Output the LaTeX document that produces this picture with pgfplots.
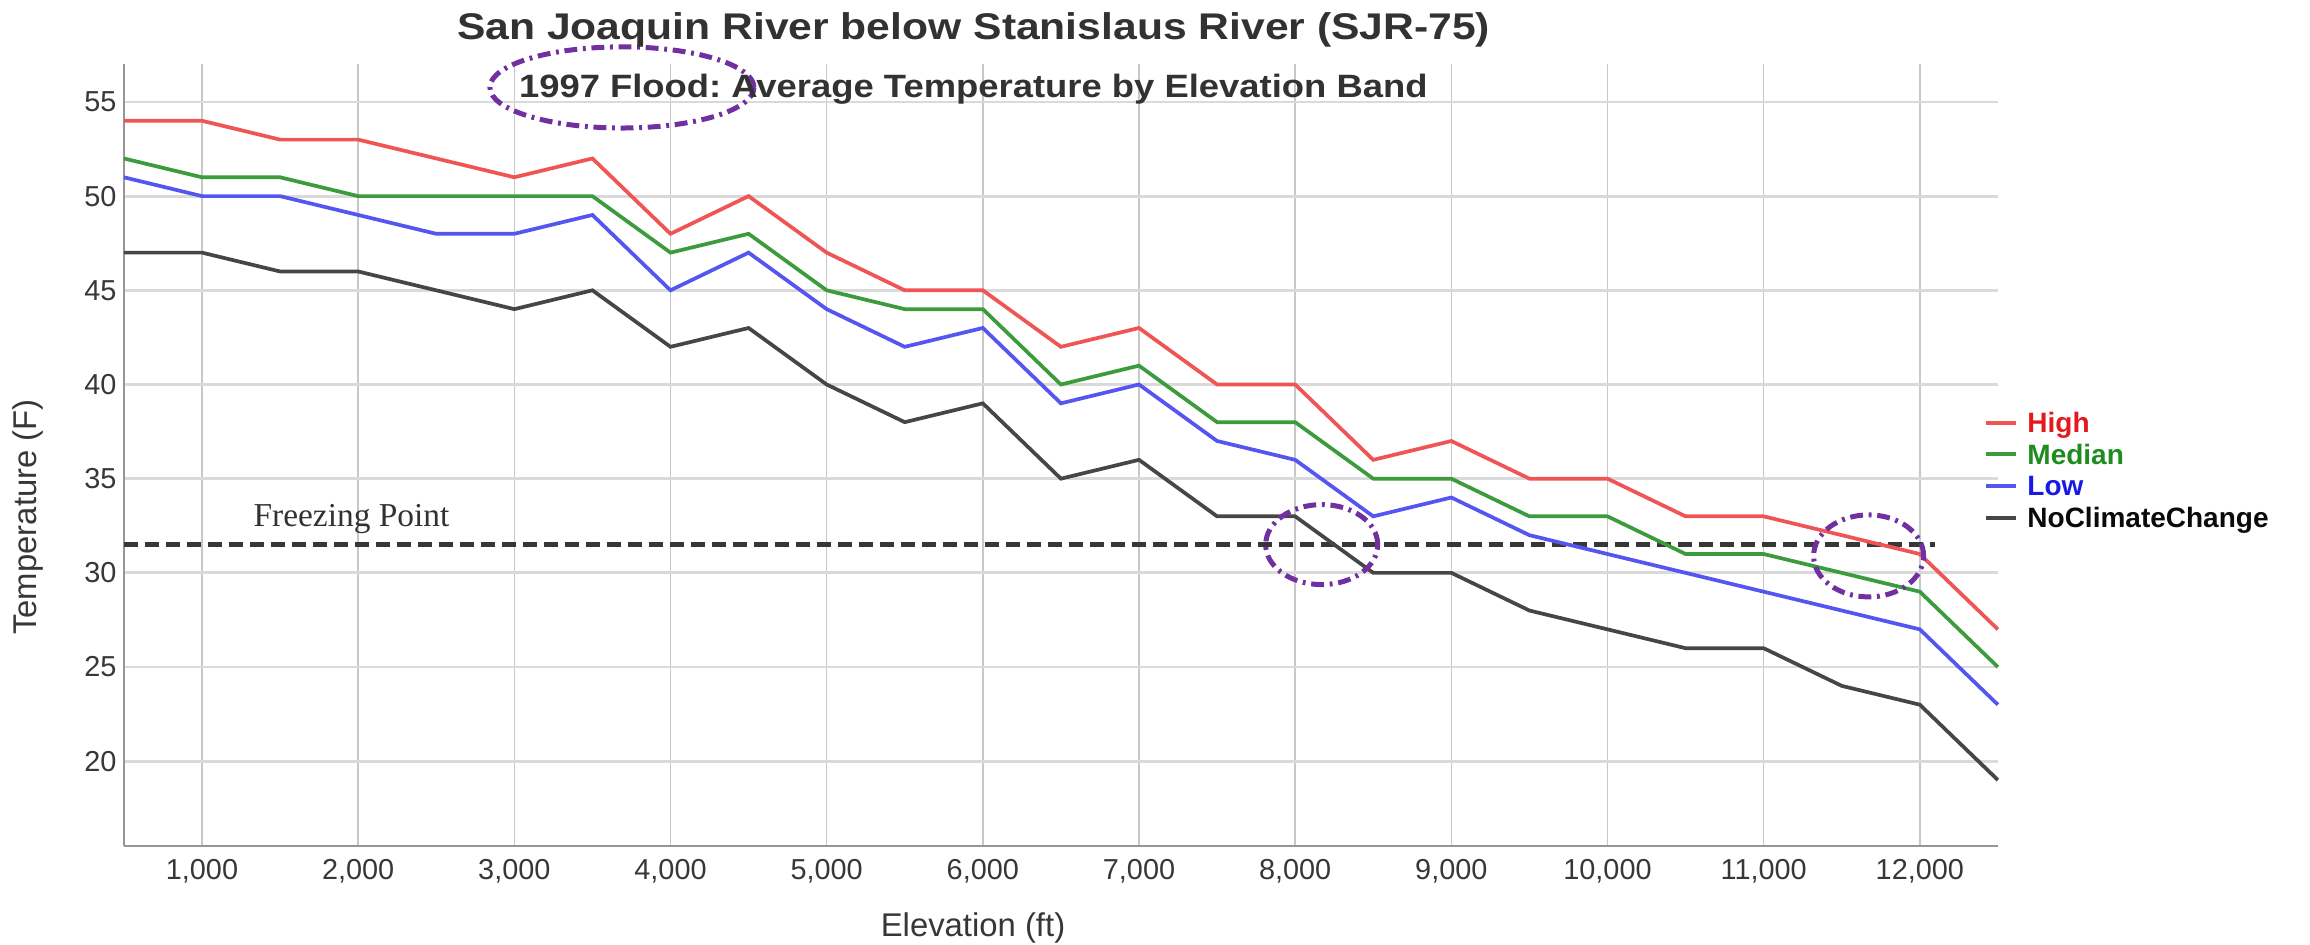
\documentclass[border=0pt]{standalone}
\usepackage{fontspec}
\setmainfont{Liberation Sans}
\newfontfamily\serifont{Liberation Serif}
\usepackage{graphicx}
\usepackage{pgfplots}
\usepackage{pgfplotstable}
\pgfplotsset{compat=1.18}
\frenchspacing

\definecolor{cHigh}{RGB}{240,85,85}
\definecolor{cMed}{RGB}{60,155,60}
\definecolor{cLow}{RGB}{85,85,240}
\definecolor{cNcc}{RGB}{70,70,70}
\definecolor{tHigh}{RGB}{228,25,30}
\definecolor{tMed}{RGB}{30,140,30}
\definecolor{tLow}{RGB}{25,25,230}
\definecolor{tNcc}{RGB}{10,10,10}
\definecolor{gridv}{RGB}{200,200,200}
\definecolor{gridh}{RGB}{218,218,218}
\definecolor{axisgray}{RGB}{150,150,150}
\definecolor{tickcol}{RGB}{55,55,55}
\definecolor{titlecol}{RGB}{50,50,50}
\definecolor{freezecol}{RGB}{55,55,55}
\definecolor{annpurple}{RGB}{112,48,160}

\pgfplotstableread{
x high median low ncc
500 54 52 51 47
1000 54 51 50 47
1500 53 51 50 46
2000 53 50 49 46
2500 52 50 48 45
3000 51 50 48 44
3500 52 50 49 45
4000 48 47 45 42
4500 50 48 47 43
5000 47 45 44 40
5500 45 44 42 38
6000 45 44 43 39
6500 42 40 39 35
7000 43 41 40 36
7500 40 38 37 33
8000 40 38 36 33
8500 36 35 33 30
9000 37 35 34 30
9500 35 33 32 28
10000 35 33 31 27
10500 33 31 30 26
11000 33 31 29 26
11500 32 30 28 24
12000 31 29 27 23
12500 27 25 23 19
}\data

\pgfplotstableread{
x y
500 31.5
12100 31.5
}\freeze

\begin{document}
\begin{tikzpicture}
\useasboundingbox (-43.37pt,-34.65pt) rectangle (765.13pt,296.1pt);
\begin{axis}[
  at={(0pt,0pt)}, anchor=south west,
  scale only axis, width=655.9pt, height=273.6pt,
  xmin=500, xmax=12500, ymin=15.5, ymax=57,
  axis lines*=left,
  axis line style={draw=axisgray, line width=0.9pt},
  scaled x ticks=false, scaled y ticks=false,
  xtick={1000,2000,...,12000},
  xticklabels={{1,000},{2,000},{3,000},{4,000},{5,000},{6,000},{7,000},{8,000},{9,000},{10,000},{11,000},{12,000}},
  ytick={20,25,...,55},
  major tick length=0pt,
  grid=major,
  x grid style={draw=gridv, line width=0.5pt},
  y grid style={draw=gridh, line width=1pt},
  tick label style={font=\fontsize{10.1}{12}\selectfont, text=tickcol},
  /pgf/number format/assume math mode=true,
  xticklabel style={inner sep=0pt, anchor=north, yshift=-4.5pt},
  yticklabel style={inner sep=0pt, anchor=east, xshift=-2.4pt},
  xlabel={Elevation (ft)},
  ylabel={Temperature (F)},
  label style={font=\fontsize{11.5}{13}\selectfont, text=tickcol},
  xlabel style={at={(axis description cs:0.4531,-0.1049)}, anchor=center},
  ylabel style={at={(axis description cs:-0.0512,0.4209)}, anchor=center, rotate=0},
  clip=false,
  legend cell align=left,
  legend style={at={(axis description cs:0.9925,0.5548)}, anchor=north west,
    draw=none, fill=none, inner sep=0pt, row sep=4.3pt, column sep=3.15pt,
    nodes={inner sep=0pt, text height=6.8pt, text depth=0pt},
    font=\bfseries\fontsize{9.8}{11}\selectfont},
  legend image code/.code={\draw[#1, line width=1.4pt] (0pt,0pt) -- (10.5pt,0pt);},
]
\addplot[forget plot, draw=freezecol, line width=1.75pt, dash pattern=on 4.9pt off 2.45pt] table[x=x, y=y] {\freeze};
\addplot[draw=cHigh, line width=1.3pt] table[x=x, y=high] {\data};
\addlegendentry{\textcolor{tHigh}{High}}
\addplot[draw=cMed, line width=1.3pt] table[x=x, y=median] {\data};
\addlegendentry{\textcolor{tMed}{Median}}
\addplot[draw=cLow, line width=1.3pt] table[x=x, y=low] {\data};
\addlegendentry{\textcolor{tLow}{Low}}
\addplot[draw=cNcc, line width=1.3pt] table[x=x, y=ncc] {\data};
\addlegendentry{\textcolor{tNcc}{NoClimateChange}}

\draw[annpurple, line width=1.75pt, dash pattern=on 4.5pt off 2pt on 1pt off 2pt] (axis cs:3689,55.77) ellipse [x radius=46.2pt, y radius=14.2pt];
\draw[annpurple, line width=1.75pt, dash pattern=on 4.5pt off 2pt on 1pt off 2pt] (axis cs:8170,31.5) ellipse [x radius=19.6pt, y radius=14pt];
\draw[annpurple, line width=1.75pt, dash pattern=on 4.5pt off 2pt on 1pt off 2pt] (axis cs:11672,30.9) ellipse [x radius=19.25pt, y radius=14.35pt];
\end{axis}

\node[anchor=base, inner sep=0pt, text=titlecol, font=\bfseries\fontsize{13}{15}\selectfont] at (297.4pt,282.1pt) {\resizebox{361.5pt}{\height}{San Joaquin River below Stanislaus River (SJR-75)}};
\node[anchor=base, inner sep=0pt, text=titlecol, font=\bfseries\fontsize{11.3}{14}\selectfont] at (297.3pt,261.8pt) {\resizebox{318pt}{\height}{1997 Flood: Average Temperature by Elevation Band}};
\node[anchor=base, inner sep=0pt, text=titlecol, font=\serifont\fontsize{11.7}{14}\selectfont] at (79.66pt,111.65pt) {Freezing Point};
\end{tikzpicture}
\end{document}
